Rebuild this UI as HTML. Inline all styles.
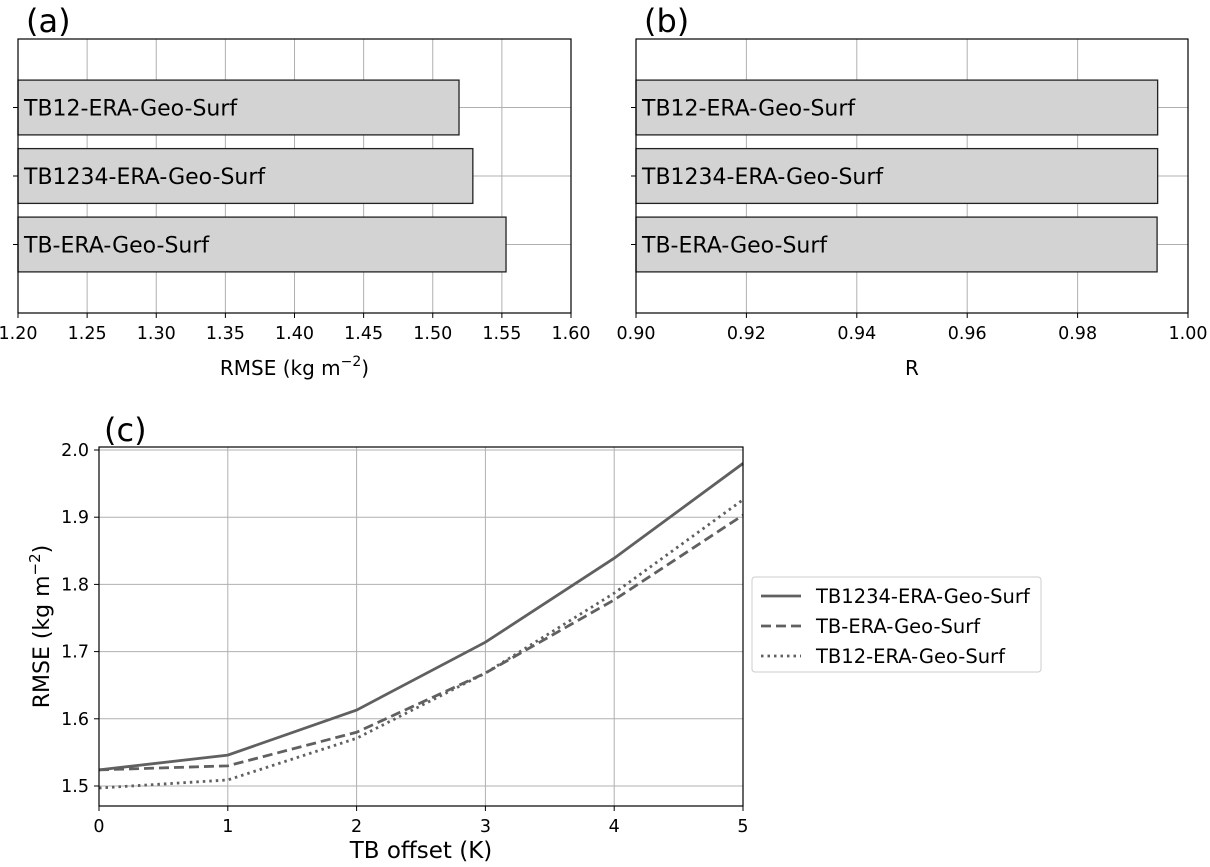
<!DOCTYPE html>
<html><head><meta charset="utf-8"><style>
body{margin:0;background:#fff}
svg text{font-family:"DejaVu Sans","Liberation Sans",sans-serif;fill:#000}
</style></head><body>
<svg id="fig" width="1210" height="862" viewBox="0 0 1210 862" xmlns="http://www.w3.org/2000/svg"></svg>
<script>
const barCats=["TB12-ERA-Geo-Surf","TB1234-ERA-Geo-Surf","TB-ERA-Geo-Surf"];
const rmseVals=[1.519,1.529,1.553];
const rVals=[0.9945,0.9945,0.9944];
const aTicks=["1.20","1.25","1.30","1.35","1.40","1.45","1.50","1.55","1.60"];
const bTicks=["0.90","0.92","0.94","0.96","0.98","1.00"];
const offsets=[0,1,2,3,4,5];
const sTB1234=[1.524,1.546,1.613,1.714,1.839,1.980];
const sTB=[1.524,1.530,1.580,1.668,1.777,1.903];
const sTB12=[1.497,1.509,1.571,1.668,1.787,1.926];
const cYTicks=["1.5","1.6","1.7","1.8","1.9","2.0"];

const svg=document.getElementById('fig');
const NS="http://www.w3.org/2000/svg";
function el(tag,attrs,parent){const e=document.createElementNS(NS,tag);for(const k in attrs)e.setAttribute(k,attrs[k]);(parent||svg).appendChild(e);return e;}
function txt(s,x,y,size,anchor,parent){const t=el('text',{x:x,y:y,'font-size':size,'text-anchor':anchor||'start'},parent);t.textContent=s;return t;}

function barPanel(name,x0,x1,y0,y1,vmin,vmax,ticks,vals,label,letter){
  const g=el('g',{});
  
  
  const sx=v=>x0+(v-vmin)/(vmax-vmin)*(x1-x0);
  const sy=i=>y0+(i+1)/4*(y1-y0);
  ticks.forEach(t=>{const x=sx(parseFloat(t));
    el('line',{x1:x,x2:x,y1:y0,y2:y1,stroke:'#b0b0b0','stroke-width':1},g);
    el('line',{x1:x,x2:x,y1:y1,y2:y1+5,stroke:'#000'},g);
    const tl=txt(t,x,y1+26,17.5,'middle',g);
    
    
  });
  vals.forEach((v,i)=>{const cy=sy(i);
    el('line',{x1:x0,x2:x1,y1:cy,y2:cy,stroke:'#b0b0b0','stroke-width':1},g);
    el('line',{x1:x0-5,x2:x0,y1:cy,y2:cy,stroke:'#000'},g);
  });
  vals.forEach((v,i)=>{const cy=sy(i);const h=(y1-y0)/4*0.8;
    const r=el('rect',{x:x0,y:cy-h/2,width:sx(v)-x0,height:h,fill:'#d3d3d3',stroke:'#222','stroke-width':1.3},g);
    
    
    const t=txt(barCats[i],x0+6,cy+8,22,'start',g);
    
    
  });
  el('rect',{x:x0,y:y0,width:x1-x0,height:y1-y0,fill:'none',stroke:'#000','stroke-width':1.2},g);
  const xl=el('text',{x:(x0+x1)/2,y:y1+62,'font-size':20,'text-anchor':'middle'},g);
  
  
  xl.innerHTML=label;
  const pl=txt(letter,x0+8,y0-7,32,'start',g);
  
  
}
barPanel('panel-a-rmse-bars',18,571,39,313,1.2,1.6,aTicks,rmseVals,'RMSE (kg m<tspan dy="-9" font-size="14">−2</tspan><tspan dy="9">)</tspan>','(a)');
barPanel('panel-b-r-bars',636,1188,39,313,0.9,1.0,bTicks,rVals,'R','(b)');

// panel c
(function(){
  const g=el('g',{});
  
  
  const x0=99,x1=743,y0=447,y1=806;
  const sx=v=>x0+v/5*(x1-x0);
  const sy=v=>786-(v-1.5)*672;
  offsets.forEach(o=>{const x=sx(o);
    el('line',{x1:x,x2:x,y1:y0,y2:y1,stroke:'#b0b0b0'},g);
    el('line',{x1:x,x2:x,y1:y1,y2:y1+5,stroke:'#000'},g);
    const t=txt(String(o),x,y1+26,17.5,'middle',g);
    
    
  });
  cYTicks.forEach(s=>{const y=sy(parseFloat(s));
    el('line',{x1:x0,x2:x1,y1:y,y2:y,stroke:'#b0b0b0'},g);
    el('line',{x1:x0-5,x2:x0,y1:y,y2:y,stroke:'#000'},g);
    const t=txt(s,x0-10,y+6,17.5,'end',g);
    
    
  });
  const series=[[sTB1234,'','tb1234-line'],[sTB,'10,5','tb-line'],[sTB12,'2.5,4','tb12-line']];
  series.forEach(s=>{
    const p=el('polyline',{points:offsets.map((o,i)=>sx(o)+','+sy(s[0][i])).join(' '),fill:'none',stroke:'#606060','stroke-width':2.8,'stroke-dasharray':s[1]},g);
    
    
  });
  el('rect',{x:x0,y:y0,width:x1-x0,height:y1-y0,fill:'none',stroke:'#000','stroke-width':1.2},g);
  const xl=txt('TB offset (K)',(x0+x1)/2,y1+52,23,'middle',g);
  
  
  const yl=el('text',{x:0,y:0,'font-size':22,'text-anchor':'middle',transform:'translate(49,'+((y0+y1)/2)+') rotate(-90)'},g);
  
  
  yl.innerHTML='RMSE (kg m<tspan dy="-9" font-size="15">−2</tspan><tspan dy="9">)</tspan>';
  const pl=txt('(c)',x0+5,y0-6,32,'start',g);
  
  
  const lg=el('g',{},g);
  
  
  el('rect',{x:752,y:577,width:289,height:95,rx:3,fill:'#fff',stroke:'#ccc'},lg);
  const names=['TB1234-ERA-Geo-Surf','TB-ERA-Geo-Surf','TB12-ERA-Geo-Surf'];
  names.forEach((n,i)=>{const y=596+i*30;
    const l=el('line',{x1:761,x2:801,y1:y,y2:y,stroke:'#606060','stroke-width':2.8,'stroke-dasharray':series[i][1]},lg);
    
    
    const t=txt(n,816,y+7,19.5,'start',lg);
    
    
  });
})();
</script>
</body></html>
